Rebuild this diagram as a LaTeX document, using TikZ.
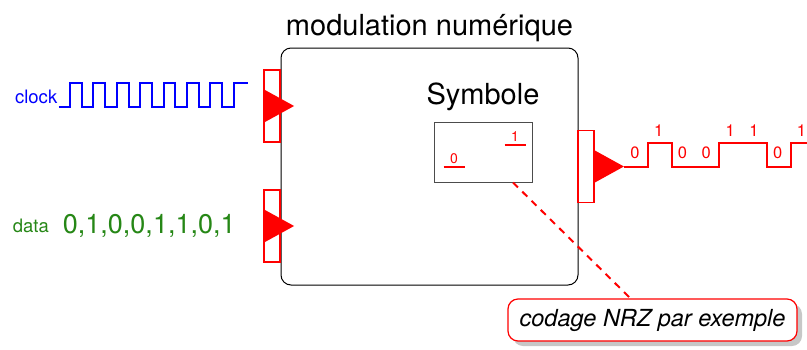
\documentclass[tikz,border=0pt]{standalone}
\usepackage{fontspec}
\setmainfont{TeX Gyre Heros}
\usepackage{tikz}
\usetikzlibrary{positioning,calc,shadows}
\definecolor{datagreen}{RGB}{38,135,22}

\begin{document}
\begin{tikzpicture}[x=1pt,y=-1pt,
  port/.style={draw=red,line width=1.8pt,fill=white,minimum width=16pt,minimum height=72pt,inner sep=0pt},
  signal/.style={line width=2pt},
  big/.style={font=\fontsize{29}{29}\selectfont},
  small/.style={font=\fontsize{18.5}{18.5}\selectfont},
  bitlabel/.style={red,font=\fontsize{16.5}{16.5}\selectfont,inner sep=0pt},
  symlabel/.style={red,font=\fontsize{14}{14}\selectfont,inner sep=2pt}]
  \useasboundingbox (0,0) rectangle (807,349);

  \node[draw,rounded corners=10pt,line width=1pt,minimum width=297pt,minimum height=237pt] (modbox) at (429.5,166.5) {};
  \node[big,above=2pt of modbox] (title) {modulation numérique};

  \node[port] (clkport) at (272,106) {};
  \node[port] (dataport) at (272,226) {};
  \node[port] (outport) at (586,166.5) {};
  \fill[red] ($(clkport.west)+(1,-16.5)$) -- ++(30,16.5) -- ++(-30,16.5) -- cycle;
  \fill[red] ($(dataport.west)+(1,-16.5)$) -- ++(30,16.5) -- ++(-30,16.5) -- cycle;
  \fill[red] ($(outport.east)+(0,-16)$) -- ($(outport.east)+(29,0)$) coordinate (outtip) -- ($(outport.east)+(0,16)$) -- cycle;

  \coordinate (clkstart) at (58.5,107);
  \node[small,blue,anchor=base east,inner sep=1pt] (clklabel) at ($(clkstart)+(0,-4)$) {clock};
  \draw[signal,blue] (clkstart) -- ++(11.5,0)
    |- ++(11.7,-24) |- ++(11.7,24) |- ++(11.7,-24) |- ++(11.7,24)
    |- ++(11.7,-24) |- ++(11.7,24) |- ++(11.7,-24) |- ++(11.7,24)
    |- ++(11.7,-24) |- ++(11.7,24) |- ++(11.7,-24) |- ++(11.7,24)
    |- ++(11.7,-24) |- ++(11.7,24) |- ++(14.2,-24);

  \node[datagreen,font=\fontsize{27}{27}\selectfont,left=24pt of dataport] (databits) {0,1,0,0,1,1,0,1};
  \node[small,datagreen,left=7pt of databits] (datalabel) {data};

  \node[draw=black!70,line width=1pt,minimum width=98pt,minimum height=60pt] (symbox) at (483,152) {};
  \node[big,above=7pt of symbox] (symtitle) {Symbole};
  \draw[signal,red] ($(symbox.south west)+(10,-16)$) -- ++(21,0) node[symlabel,above,midway] (sym0) {0};
  \draw[signal,red] ($(symbox.north east)+(-28,23)$) -- ++(21,0) node[symlabel,above,midway] (sym1) {1};

  \draw[signal,red] (outtip) -- ++(23.8,0) |- ++(23.8,-24) |- ++(47.6,24)
    |- ++(47.6,-24) |- ++(23.8,24) |- ++(23.8,-24);
  \node[bitlabel] (b1) at (634.9,152.5) {0};
  \node[bitlabel] (b2) at (658.7,130.5) {1};
  \node[bitlabel] (b3) at (682.5,152.5) {0};
  \node[bitlabel] (b4) at (706.3,152.5) {0};
  \node[bitlabel] (b5) at (730.1,130.5) {1};
  \node[bitlabel] (b6) at (753.9,130.5) {1};
  \node[bitlabel] (b7) at (777.7,152.5) {0};
  \node[bitlabel] (b8) at (801.5,130.5) {1};

  \node[draw=red,line width=1.2pt,fill=white,rounded corners=10pt,minimum width=289pt,minimum height=42pt,
    font=\fontsize{23.5}{23.5}\selectfont\itshape,
    drop shadow={shadow xshift=5pt,shadow yshift=-5pt,fill=black!22,opacity=1}] (note) at (652.5,320) {codage NRZ par exemple};
  \draw[red,line width=2pt,dash pattern=on 7pt off 6pt] ($(symbox.south)+(30,0)$) -- ($(note.north)+(-22,0)$);
\end{tikzpicture}
\end{document}
